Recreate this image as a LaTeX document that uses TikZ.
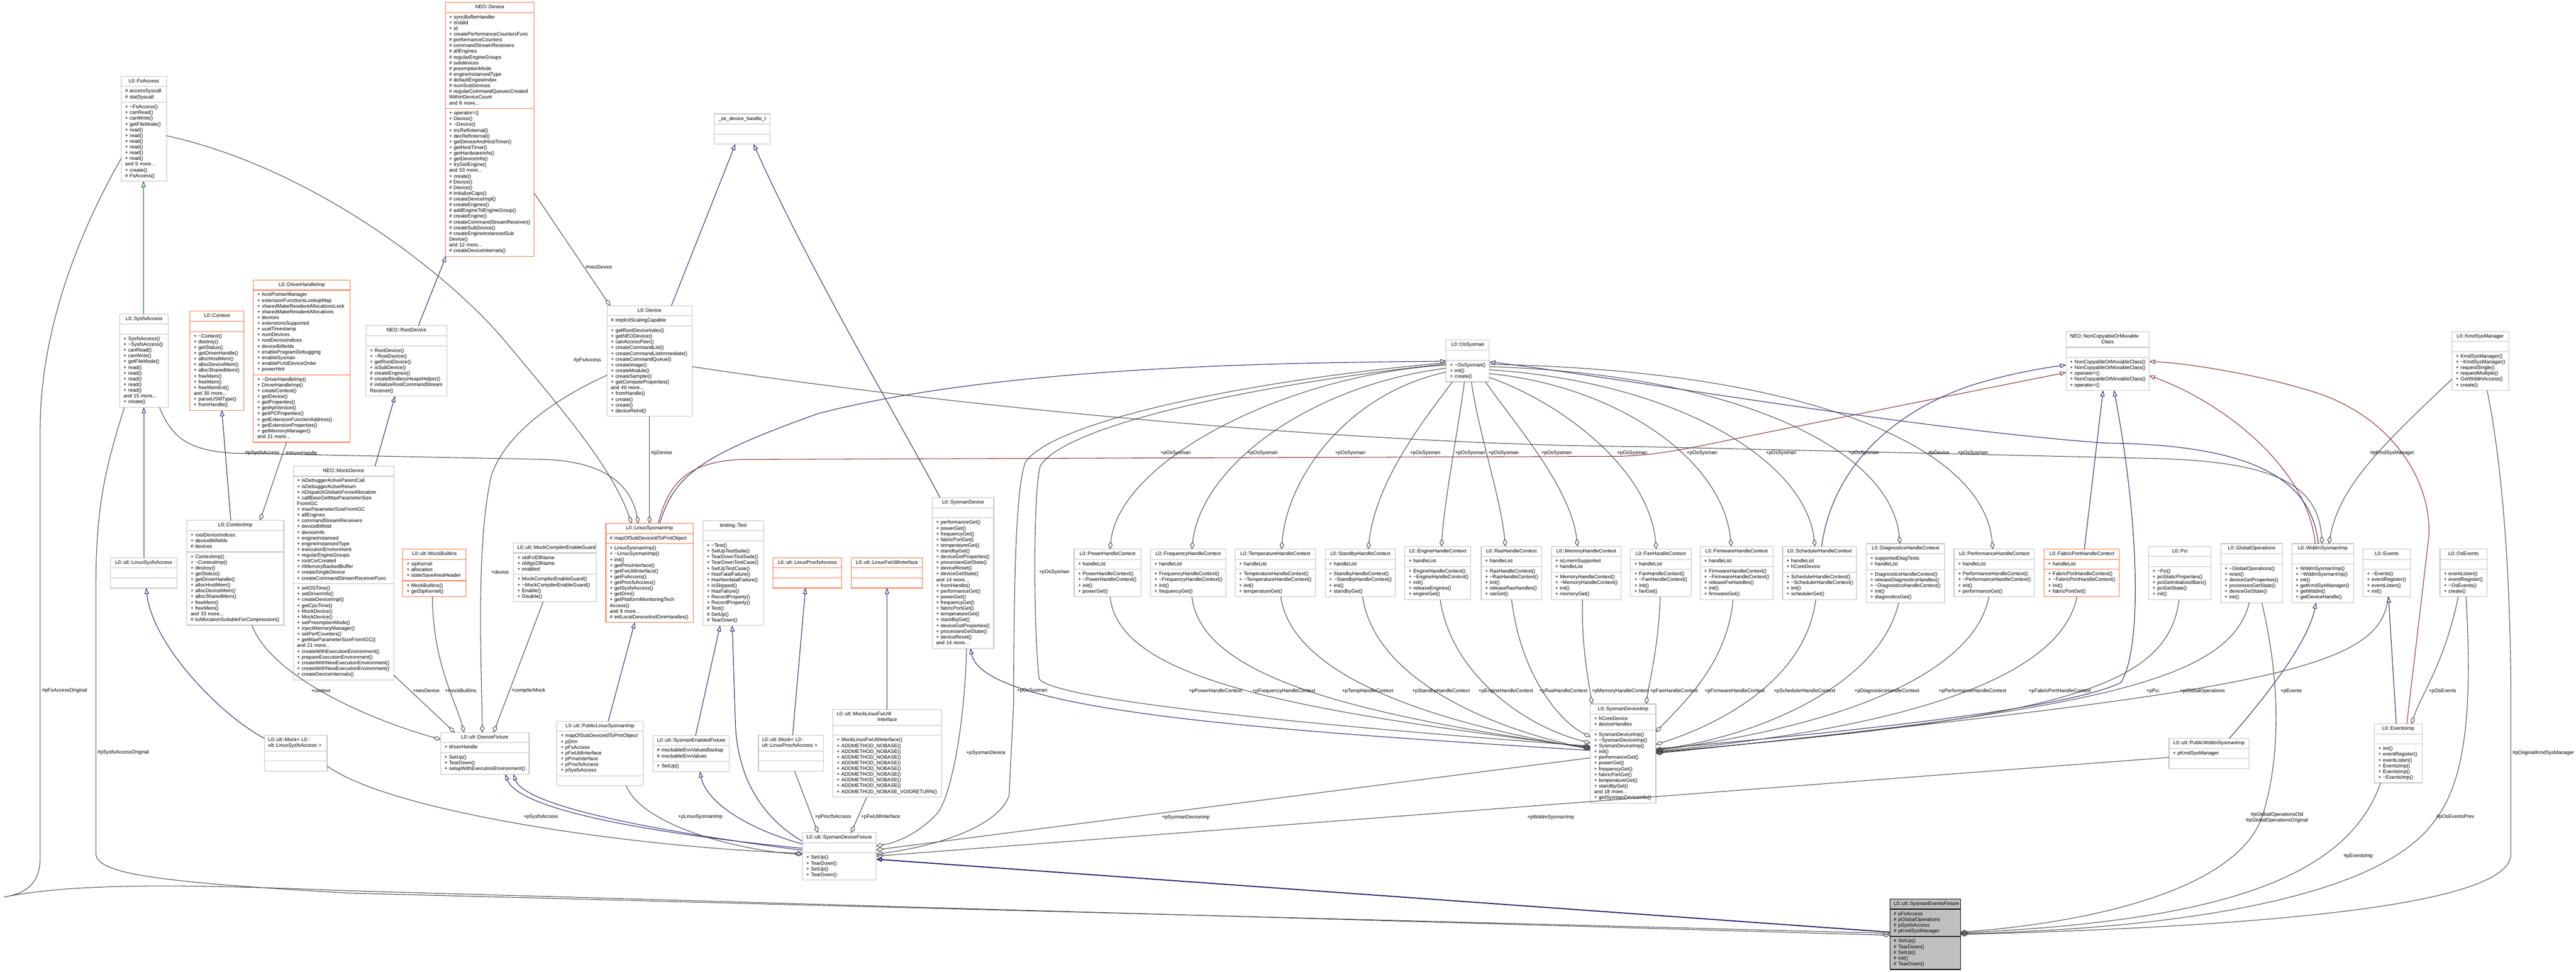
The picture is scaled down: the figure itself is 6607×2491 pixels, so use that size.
\documentclass[tikz,border=0pt]{standalone}
\usepackage{fontspec}
\setmainfont{Liberation Sans}
\usetikzlibrary{arrows.meta}
\definecolor{grey75}{HTML}{BFBFBF}
\definecolor{grey25}{HTML}{404040}
\definecolor{mnblue}{HTML}{191970}
\definecolor{dkgreen}{HTML}{006400}
\definecolor{fbrick}{HTML}{8B1A1A}
\definecolor{orng}{HTML}{FF6E3C}
\newcommand\umlfont{\fontsize{12.9}{14.7}\selectfont}
\newcommand\mPub{+~}
\newcommand\mPro{\#~}
\newcommand\tld{\textasciitilde}
\hyphenpenalty=10000
\exhyphenpenalty=10000
\tikzset{
 box/.style={draw=grey75, fill=white, line width=1.5pt, inner xsep=10pt, inner ysep=5.6pt, outer sep=0pt, font=\umlfont, anchor=north west, execute at begin node=\strut, execute at end node=\strut},
 ttl/.style={box, align=center},
 sec/.style={box, align=left},
 plain/.style={},
 orange/.style={draw=orng},
 focal/.style={draw=black, fill=grey75},
 edge/.style={line width=1.4pt},
 inh/.style={edge, draw=mnblue, -{Triangle[open,length=15pt,width=11pt]}},
 inhg/.style={inh, draw=dkgreen},
 inhr/.style={inh, draw=fbrick},
 inht/.style={inh, line width=2.6pt},
 use/.style={edge, draw=grey25, -{Diamond[open,length=20pt,width=11pt]}},
 lbl/.style={font=\umlfont, inner sep=1pt, anchor=west}
}
\newcommand\uml[8]{%
  \pgfmathsetmacro\umltw{#4-20}%
  \node[ttl,#5,minimum width=#4pt,text width=\umltw pt] (#1) at (#2,#3) {#6};%
  \node[sec,#5,minimum width=#4pt,text width=\umltw pt] (#1a) at (#1.south west) {#7};%
  \node[sec,#5,minimum width=#4pt,text width=\umltw pt] (#1m) at (#1a.south west) {#8};%
}
\begin{document}
\begin{tikzpicture}[x=1pt,y=-1pt]
\fill[white] (0,0) rectangle (6607,2491);
\useasboundingbox (0,0) rectangle (6607,2491);

% ---------------- classes ----------------
\uml{FsA}{311}{196}{116}{plain}{L0::FsAccess}{\mPro accessSyscall\\\mPro statSyscall}{\mPub \tld FsAccess()\\\mPub canRead()\\\mPub canWrite()\\\mPub getFileMode()\\\mPub read()\\\mPub read()\\\mPub read()\\\mPub read()\\\mPub read()\\\mPub read()\\and~9~more...\\\mPub create()\\\mPro FsAccess()}
\uml{SfA}{307}{805}{125}{plain}{L0::SysfsAccess}{}{\mPub SysfsAccess()\\\mPub \tld SysfsAccess()\\\mPub canRead()\\\mPub canWrite()\\\mPub getFileMode()\\\mPub read()\\\mPub read()\\\mPub read()\\\mPub read()\\\mPub read()\\and~15~more...\\\mPub create()}
\uml{Ctx}{487}{798}{139}{orange}{L0::Context}{}{\mPub \tld Context()\\\mPub destroy()\\\mPub getStatus()\\\mPub getDriverHandle()\\\mPub allocHostMem()\\\mPub allocDeviceMem()\\\mPub allocSharedMem()\\\mPub freeMem()\\\mPub freeMem()\\\mPub freeMemExt()\\and~30~more...\\\mPub parseUSMType()\\\mPub fromHandle()}
\uml{DHI}{650}{718}{248}{orange}{L0::DriverHandleImp}{\mPub hostPointerManager\\\mPub extensionFunctionsLookupMap\\\mPub sharedMakeResidentAllocationsLock\\\mPub sharedMakeResidentAllocations\\\mPub devices\\\mPub extensionsSupported\\\mPub uuidTimestamp\\\mPub numDevices\\\mPub rootDeviceIndices\\\mPub deviceBitfields\\\mPub enableProgramDebugging\\\mPub enableSysman\\\mPub enablePciIdDeviceOrder\\\mPub powerHint}{\mPub \tld DriverHandleImp()\\\mPub DriverHandleImp()\\\mPub createContext()\\\mPub getDevice()\\\mPub getProperties()\\\mPub getApiVersion()\\\mPub getIPCProperties()\\\mPub getExtensionFunctionAddress()\\\mPub getExtensionProperties()\\\mPub getMemoryManager()\\and~21~more...}
\uml{RD}{939}{835}{207}{plain}{NEO::RootDevice}{}{\mPub RootDevice()\\\mPub \tld RootDevice()\\\mPub getRootDevice()\\\mPub isSubDevice()\\\mPro createEngines()\\\mPro createBindlessHeapsHelper()\\\mPro initializeRootCommandStream\\Receiver()}
\uml{ND}{1142}{6}{228}{orange}{NEO::Device}{\mPub syncBufferHandler\\\mPub isValid\\\mPub id\\\mPub createPerformanceCountersFunc\\\mPro performanceCounters\\\mPro commandStreamReceivers\\\mPro allEngines\\\mPro regularEngineGroups\\\mPro subdevices\\\mPro preemptionMode\\\mPro engineInstancedType\\\mPro defaultEngineIndex\\\mPro numSubDevices\\\mPro regularCommandQueuesCreated\\WithinDeviceCount\\and~8~more...}{\mPub operator=()\\\mPub Device()\\\mPub \tld Device()\\\mPub incRefInternal()\\\mPub decRefInternal()\\\mPub getDeviceAndHostTimer()\\\mPub getHostTimer()\\\mPub getHardwareInfo()\\\mPub getDeviceInfo()\\\mPub tryGetEngine()\\and~53~more...\\\mPub create()\\\mPro Device()\\\mPro Device()\\\mPro initializeCaps()\\\mPro createDeviceImpl()\\\mPro createEngines()\\\mPro addEngineToEngineGroup()\\\mPro createEngine()\\\mPro createCommandStreamReceiver()\\\mPro createSubDevice()\\\mPro createEngineInstancedSub\\Device()\\and~12~more...\\\mPro createDeviceInternals()}
\uml{ZDH}{1832}{292}{143}{plain}{\_ze\_device\_handle\_t}{}{}
\uml{LD}{1557}{784}{218}{plain}{L0::Device}{\mPro implicitScalingCapable}{\mPub getRootDeviceIndex()\\\mPub getNEODevice()\\\mPub canAccessPeer()\\\mPub createCommandList()\\\mPub createCommandListImmediate()\\\mPub createCommandQueue()\\\mPub createImage()\\\mPub createModule()\\\mPub createSampler()\\\mPub getComputeProperties()\\and~49~more...\\\mPub fromHandle()\\\mPub create()\\\mPub create()\\\mPub deviceReinit()}
\uml{MD}{752}{1195}{258}{plain}{NEO::MockDevice}{\mPub isDebuggerActiveParentCall\\\mPub isDebuggerActiveReturn\\\mPub rtDispatchGlobalsForceAllocation\\\mPub callBaseGetMaxParameterSize\\FromIGC\\\mPub maxParameterSizeFromIGC\\\mPub allEngines\\\mPub commandStreamReceivers\\\mPub deviceBitfield\\\mPub deviceInfo\\\mPub engineInstanced\\\mPub engineInstancedType\\\mPub executionEnvironment\\\mPub regularEngineGroups\\\mPub rootCsrCreated\\\mPub rtMemoryBackedBuffer\\\mPub createSingleDevice\\\mPub createCommandStreamReceiverFunc}{\mPub setOSTime()\\\mPub setDriverInfo()\\\mPub createDeviceImpl()\\\mPub getCpuTime()\\\mPub MockDevice()\\\mPub MockDevice()\\\mPub setPreemptionMode()\\\mPub injectMemoryManager()\\\mPub setPerfCounters()\\\mPub getMaxParameterSizeFromIGC()\\and~21~more...\\\mPub createWithExecutionEnvironment()\\\mPub prepareExecutionEnvironment()\\\mPub createWithNewExecutionEnvironment()\\\mPub createWithNewExecutionEnvironment()\\\mPub createDeviceInternals()}
\uml{CI}{479}{1334}{249}{plain}{L0::ContextImp}{\mPub rootDeviceIndices\\\mPub deviceBitfields\\\mPro devices}{\mPub ContextImp()\\\mPub \tld ContextImp()\\\mPub destroy()\\\mPub getStatus()\\\mPub getDriverHandle()\\\mPub allocHostMem()\\\mPub allocDeviceMem()\\\mPub allocSharedMem()\\\mPub freeMem()\\\mPub freeMem()\\and~33~more...\\\mPro isAllocationSuitableForCompression()}
\uml{LSA}{283}{1430}{171}{plain}{L0::ult::LinuxSysfsAccess}{}{}
\uml{MB}{1033}{1408}{162}{orange}{L0::ult::MockBuiltins}{\mPub sipKernel\\\mPub allocation\\\mPub stateSaveAreaHeader}{\mPub MockBuiltins()\\\mPub getSipKernel()}
\uml{MCE}{1317}{1392}{213}{plain}{L0::ult::MockCompilerEnableGuard}{\mPub oldFclDllName\\\mPub oldIgcDllName\\\mPub enabled}{\mPub MockCompilerEnableGuard()\\\mPub \tld MockCompilerEnableGuard()\\\mPub Enable()\\\mPub Disable()}
\uml{MLSA}{678}{1885}{161}{plain}{L0::ult::Mock<~L0::\hfill\null\\ult::LinuxSysfsAccess~>\hfill\null}{}{}
\uml{DF}{1130}{1878}{227}{plain}{L0::ult::DeviceFixture}{\mPub driverHandle}{\mPub SetUp()\\\mPub TearDown()\\\mPub setupWithExecutionEnvironment()}
\uml{LSI}{1554}{1342}{224}{orange}{L0::LinuxSysmanImp}{\mPro mapOfSubDeviceIdToPmtObject}{\mPub LinuxSysmanImp()\\\mPub \tld LinuxSysmanImp()\\\mPub init()\\\mPub getPmuInterface()\\\mPub getFwUtilInterface()\\\mPub getFsAccess()\\\mPub getProcfsAccess()\\\mPub getSysfsAccess()\\\mPub getDrm()\\\mPub getPlatformMonitoringTech\\Access()\\and~9~more...\\\mPro initLocalDeviceAndDrmHandles()}
\uml{TT}{1803}{1335}{156}{plain}{testing::Test}{}{\mPub \tld Test()\\\mPub SetUpTestSuite()\\\mPub TearDownTestSuite()\\\mPub TearDownTestCase()\\\mPub SetUpTestCase()\\\mPub HasFatalFailure()\\\mPub HasNonfatalFailure()\\\mPub IsSkipped()\\\mPub HasFailure()\\\mPub RecordProperty()\\\mPub RecordProperty()\\\mPro Test()\\\mPro SetUp()\\\mPro TearDown()}
\uml{LPA}{1983}{1430}{176}{orange}{L0::ult::LinuxProcfsAccess}{}{}
\uml{LFU}{2184}{1430}{182}{orange}{L0::ult::LinuxFwUtilInterface}{}{}
\uml{SD}{2391}{1276}{158}{plain}{L0::SysmanDevice}{}{\mPub performanceGet()\\\mPub powerGet()\\\mPub frequencyGet()\\\mPub fabricPortGet()\\\mPub temperatureGet()\\\mPub standbyGet()\\\mPub deviceGetProperties()\\\mPub processesGetState()\\\mPub deviceReset()\\\mPub deviceGetState()\\and~14~more...\\\mPub fromHandle()\\\mPub performanceGet()\\\mPub powerGet()\\\mPub frequencyGet()\\\mPub fabricPortGet()\\\mPub temperatureGet()\\\mPub standbyGet()\\\mPub deviceGetProperties()\\\mPub processesGetState()\\\mPub deviceReset()\\and~14~more...}
\uml{PLSI}{1428}{1849}{222}{plain}{L0::ult::PublicLinuxSysmanImp}{\mPub mapOfSubDeviceIdToPmtObject\\\mPub pDrm\\\mPub pFsAccess\\\mPub pFwUtilInterface\\\mPub pPmuInterface\\\mPub pProcfsAccess\\\mPub pSysfsAccess}{}
\uml{SEF}{1675}{1886}{195}{plain}{L0::ult::SysmanEnabledFixture}{\mPro mockableEnvValuesBackup\\\mPro mockableEnvValues}{\mPub SetUp()}
\uml{MLPA}{1945}{1885}{167}{plain}{L0::ult::Mock<~L0::\hfill\null\\ult::LinuxProcfsAccess~>\hfill\null}{}{}
\uml{MLFU}{2136}{1819}{279}{plain}{L0::ult::MockLinuxFwUtil\hfill\null\\Interface}{}{\mPub MockLinuxFwUtilInterface()\\\mPub ADDMETHOD\_NOBASE()\\\mPub ADDMETHOD\_NOBASE()\\\mPub ADDMETHOD\_NOBASE()\\\mPub ADDMETHOD\_NOBASE()\\\mPub ADDMETHOD\_NOBASE()\\\mPub ADDMETHOD\_NOBASE()\\\mPub ADDMETHOD\_NOBASE()\\\mPub ADDMETHOD\_NOBASE()\\\mPub ADDMETHOD\_NOBASE\_VOIDRETURN()}
\uml{SDF}{2058}{2135}{189}{plain}{L0::ult::SysmanDeviceFixture}{}{\mPub SetUp()\\\mPub TearDown()\\\mPub SetUp()\\\mPub TearDown()}
\uml{OS}{3709}{872}{111}{plain}{L0::OsSysman}{}{\mPub \tld OsSysman()\\\mPub init()\\\mPub create()}
\uml{PHC}{2755}{1408}{171}{plain}{L0::PowerHandleContext}{\mPub handleList}{\mPub PowerHandleContext()\\\mPub \tld PowerHandleContext()\\\mPub init()\\\mPub powerGet()}
\uml{FHC}{2951}{1408}{193}{plain}{L0::FrequencyHandleContext}{\mPub handleList}{\mPub FrequencyHandleContext()\\\mPub \tld FrequencyHandleContext()\\\mPub init()\\\mPub frequencyGet()}
\uml{THC}{3168}{1408}{206}{plain}{L0::TemperatureHandleContext}{\mPub handleList}{\mPub TemperatureHandleContext()\\\mPub \tld TemperatureHandleContext()\\\mPub init()\\\mPub temperatureGet()}
\uml{SHC}{3399}{1408}{180}{plain}{L0::StandbyHandleContext}{\mPub handleList}{\mPub StandbyHandleContext()\\\mPub \tld StandbyHandleContext()\\\mPub init()\\\mPub standbyGet()}
\uml{EHC}{3603}{1401}{169}{plain}{L0::EngineHandleContext}{\mPub handleList}{\mPub EngineHandleContext()\\\mPub \tld EngineHandleContext()\\\mPub init()\\\mPub releaseEngines()\\\mPub engineGet()}
\uml{RHC}{3799}{1401}{155}{plain}{L0::RasHandleContext}{\mPub handleList}{\mPub RasHandleContext()\\\mPub \tld RasHandleContext()\\\mPub init()\\\mPub releaseRasHandles()\\\mPub rasGet()}
\uml{MHC}{3979}{1401}{179}{plain}{L0::MemoryHandleContext}{\mPub isLmemSupported\\\mPub handleList}{\mPub MemoryHandleContext()\\\mPub \tld MemoryHandleContext()\\\mPub init()\\\mPub memoryGet()}
\uml{FanHC}{4182}{1408}{155}{plain}{L0::FanHandleContext}{\mPub handleList}{\mPub FanHandleContext()\\\mPub \tld FanHandleContext()\\\mPub init()\\\mPub fanGet()}
\uml{FwHC}{4361}{1401}{186}{plain}{L0::FirmwareHandleContext}{\mPub handleList}{\mPub FirmwareHandleContext()\\\mPub \tld FirmwareHandleContext()\\\mPub releaseFwHandles()\\\mPub init()\\\mPub firmwareGet()}
\uml{SchHC}{4572}{1401}{190}{plain}{L0::SchedulerHandleContext}{\mPub handleList\\\mPub hCoreDevice}{\mPub SchedulerHandleContext()\\\mPub \tld SchedulerHandleContext()\\\mPub init()\\\mPub schedulerGet()}
\uml{DHC}{4787}{1394}{201}{plain}{L0::DiagnosticsHandleContext}{\mPub supportedDiagTests\\\mPub handleList}{\mPub DiagnosticsHandleContext()\\\mPub releaseDiagnosticsHandles()\\\mPub \tld DiagnosticsHandleContext()\\\mPub init()\\\mPub diagnosticsGet()}
\uml{PerfHC}{5012}{1408}{206}{plain}{L0::PerformanceHandleContext}{\mPub handleList}{\mPub PerformanceHandleContext()\\\mPub \tld PerformanceHandleContext()\\\mPub init()\\\mPub performanceGet()}
\uml{FPHC}{5243}{1408}{193}{orange}{L0::FabricPortHandleContext}{\mPub handleList}{\mPub FabricPortHandleContext()\\\mPub \tld FabricPortHandleContext()\\\mPub init()\\\mPub fabricPortGet()}
\uml{Pci}{5511}{1401}{160}{plain}{L0::Pci}{}{\mPub \tld Pci()\\\mPub pciStaticProperties()\\\mPub pciGetInitializedBars()\\\mPub pciGetState()\\\mPub init()}
\uml{GO}{5696}{1394}{158}{plain}{L0::GlobalOperations}{}{\mPub \tld GlobalOperations()\\\mPub reset()\\\mPub deviceGetProperties()\\\mPub processesGetState()\\\mPub deviceGetState()\\\mPub init()}
\uml{WSI}{5878}{1394}{159}{plain}{L0::WddmSysmanImp}{}{\mPub WddmSysmanImp()\\\mPub \tld WddmSysmanImp()\\\mPub init()\\\mPub getKmdSysManager()\\\mPub getWddm()\\\mPub getDeviceHandle()}
\uml{Ev}{6061}{1408}{121}{plain}{L0::Events}{}{\mPub \tld Events()\\\mPub eventRegister()\\\mPub eventListen()\\\mPub init()}
\uml{OE}{6258}{1408}{121}{plain}{L0::OsEvents}{}{\mPub eventListen()\\\mPub eventRegister()\\\mPub \tld OsEvents()\\\mPub create()}
\uml{PWSI}{5563}{1893}{205}{plain}{L0::ult::PublicWddmSysmanImp}{\mPub pKmdSysManager}{}
\uml{EI}{6090}{1856}{122}{plain}{L0::EventsImp}{}{\mPub init()\\\mPub eventRegister()\\\mPub eventListen()\\\mPub EventsImp()\\\mPub EventsImp()\\\mPub \tld EventsImp()}
\uml{NC}{5299}{850}{213}{plain}{NEO::NonCopyableOrMovable\hfill\null\\Class}{}{\mPub NonCopyableOrMovableClass()\\\mPub NonCopyableOrMovableClass()\\\mPub operator=()\\\mPub NonCopyableOrMovableClass()\\\mPub operator=()}
\uml{KSM}{6289}{850}{145}{plain}{L0::KmdSysManager}{}{\mPub KmdSysManager()\\\mPub \tld KmdSysManager()\\\mPub requestSingle()\\\mPub requestMultiple()\\\mPub GetWddmAccess()\\\mPub create()}
\uml{SDI}{4079}{1805}{168}{plain}{L0::SysmanDeviceImp}{\mPub hCoreDevice\\\mPub deviceHandles}{\mPub SysmanDeviceImp()\\\mPub \tld SysmanDeviceImp()\\\mPub SysmanDeviceImp()\\\mPub init()\\\mPub performanceGet()\\\mPub powerGet()\\\mPub frequencyGet()\\\mPub fabricPortGet()\\\mPub temperatureGet()\\\mPub standbyGet()\\and~18~more...\\\mPub getSysmanDeviceInfo()}
\uml{FOC}{4847}{2305}{181}{focal}{L0::ult::SysmanEventsFixture}{\mPro pFsAccess\\\mPro pGlobalOperations\\\mPro pSysfsAccess\\\mPro pKmdSysManager}{\mPro SetUp()\\\mPro TearDown()\\\mPro SetUp()\\\mPro init()\\\mPro TearDown()}

% ---------------- inheritance ----------------
\draw[inhg] ([shift={(61,0)}]SfA.north west) -- ([shift={(57,0)}]FsAm.south west);
\draw[inh] ([shift={(86,0)}]LSA.north west) -- ([shift={(62,0)}]SfAm.south west);
\draw[inh] ([shift={(0,8)}]MLSA.north west) .. controls (560,1830) and (390,1650) .. ([shift={(92,0)}]LSAm.south west);
\draw[inh] ([shift={(113,0)}]CI.north west) -- ([shift={(82,0)}]Ctxm.south west);
\draw[inh] ([shift={(134,0)}]RD.north west) -- ([shift={(2,0)}]NDm.south west);
\draw[inh] ([shift={(210,0)}]MD.north west) -- ([shift={(74,0)}]RDm.south west);
\draw[inh] ([shift={(165,0)}]LD.north west) -- ([shift={(54,0)}]ZDHm.south west);
\draw[inh] ([shift={(20,0)}]SD.north west) .. controls (2330,1120) and (2080,700) .. ([shift={(101,0)}]ZDHm.south west);
\draw[inh] ([shift={(132,0)}]PLSI.north west) -- ([shift={(74,0)}]LSIm.south west);
\draw[inh] ([shift={(109,0)}]SEF.north west) -- ([shift={(44,0)}]TTm.south west);
\draw[inh] ([shift={(0,22)}]SDF.north west) .. controls (1960,2100) and (1890,2000) .. (1886,1850) -- ([shift={(75,0)}]TTm.south west);
\draw[inh] ([shift={(0,29)}]SDF.north west) .. controls (1900,2120) and (1810,2050) .. ([shift={(120,0)}]SEFm.south west);
\draw[inh] ([shift={(0,40)}]SDF.north west) .. controls (1700,2140) and (1330,2080) .. ([shift={(166,0)}]DFm.south west);
\draw[inh] ([shift={(0,45)}]SDF.north west) .. controls (1710,2135) and (1345,2070) .. ([shift={(187,0)}]DFm.south west);
\draw[inh] ([shift={(88,0)}]MLPA.north west) -- ([shift={(83,0)}]LPAm.south west);
\draw[inh] ([shift={(139,0)}]MLFU.north west) -- ([shift={(91,0)}]LFUm.south west);
\draw[inh] ([shift={(0,119)}]SDI.north west) .. controls (3200,1870) and (2520,1820) .. ([shift={(98,0)}]SDm.south west);
\draw[inh] ([shift={(138,0)}]LSI.north west) .. controls (1730,1220) and (1790,1170) .. (2100,1060) .. controls (2600,930) and (3400,930) .. ([shift={(0,54)}]OS.north west);
\draw[inhr] ([shift={(134,0)}]LSI.north west) .. controls (1715,1240) and (1760,1185) .. (1900,1178) -- (4150,1170) .. controls (4260,1168) and (4360,1143) .. (4500,1115) -- ([shift={(0,105)}]NC.north west);
\draw[inh] ([shift={(100,0)}]SchHC.north west) .. controls (4700,1200) and (4850,1060) .. (5050,990) .. controls (5150,958) and (5250,942) .. ([shift={(0,86)}]NC.north west);
\draw[inh] ([shift={(103,0)}]FPHC.north west) -- ([shift={(95,0)}]NCm.south west);
\draw[inh] ([shift={(0,115)}]SDI.north east) .. controls (4700,1880) and (5300,1820) .. (5440,1750) .. controls (5500,1650) and (5480,1300) .. ([shift={(123,0)}]NCm.south west);
\draw[inhr] ([shift={(60,0)}]WSI.north west) .. controls (5920,1200) and (5700,1030) .. ([shift={(0,113)}]NC.north east);
\draw[inhr] ([shift={(83,0)}]EI.north west) -- (6229,1380) .. controls (6240,1250) and (6150,1080) .. (5950,1010) .. controls (5800,960) and (5600,930) .. ([shift={(0,77)}]NC.north east);
\draw[inh] ([shift={(155,0)}]PWSI.north west) .. controls (5800,1800) and (5920,1650) .. ([shift={(62,0)}]WSIm.south west);
\draw[inh] ([shift={(56,0)}]EI.north west) -- ([shift={(65,0)}]Evm.south west);
\draw[inh] ([shift={(68,0)}]WSI.north west) .. controls (5930,1240) and (5800,1140) .. (5400,1136) .. controls (4900,1100) and (4100,960) .. ([shift={(0,56)}]OS.north east);
\draw[inht] ([shift={(0,85)}]FOC.north west) -- ([shift={(0,68)}]SDF.north east);

% ---------------- usage ----------------
\draw[use] ([shift={(0,489)}]ND.north east) -- ([shift={(8,0)}]LD.north west);
\draw[use] ([shift={(109,0)}]LDm.south west) -- ([shift={(112,0)}]LSI.north west);
\draw[use] ([shift={(0,152)}]FsA.north east) .. controls (800,430) and (1150,700) .. (1300,880) .. controls (1450,1060) and (1570,1200) .. ([shift={(66,0)}]LSI.north west);
\draw[use] ([shift={(102,0)}]SfAm.south west) .. controls (440,1120) and (480,1155) .. (600,1162) -- (1400,1178) .. controls (1560,1185) and (1620,1250) .. ([shift={(83,0)}]LSI.north west);
\draw[use] ([shift={(85,0)}]DHIm.south west) -- ([shift={(188,0)}]CI.north west);
\draw[use] ([shift={(167,0)}]CIm.south west) .. controls (690,1720) and (900,1830) .. ([shift={(0,18)}]DF.north west);
\draw[use] ([shift={(0,536)}]MD.north east) -- ([shift={(36,0)}]DF.north west);
\draw[use] ([shift={(76,0)}]MBm.south west) .. controls (1110,1700) and (1170,1800) .. ([shift={(60,0)}]DF.north west);
\draw[use] ([shift={(0,178)}]LD.north west) .. controls (1450,1010) and (1300,1100) .. (1260,1220) .. controls (1220,1400) and (1235,1700) .. ([shift={(107,0)}]DF.north west);
\draw[use] ([shift={(76,0)}]MCEm.south west) -- ([shift={(136,0)}]DF.north west);
\draw[use] ([shift={(0,210)}]FsA.north west) .. controls (200,600) and (103,850) .. (103,1100) -- (103,2200) .. controls (103,2270) and (60,2292) .. (10,2300) .. controls (200,2262) and (500,2268) .. (900,2284) -- ([shift={(0,93)}]FOC.north west);
\draw[use] ([shift={(12,0)}]SfAm.south west) .. controls (270,1200) and (246,1300) .. (246,1500) -- (246,2190) .. controls (250,2240) and (400,2262) .. (900,2290) -- ([shift={(0,88)}]FOC.north west);
\draw[use] ([shift={(0,79)}]MLSA.north east) .. controls (1000,2080) and (1600,2170) .. ([shift={(0,53)}]SDF.north west);
\draw[use] ([shift={(178,0)}]PLSIm.south west) .. controls (1650,2120) and (1900,2180) .. ([shift={(0,56)}]SDF.north west);
\draw[use] ([shift={(93,0)}]MLPAm.south west) -- ([shift={(40,0)}]SDF.north west);
\draw[use] ([shift={(87,0)}]MLFUm.south west) -- ([shift={(125,0)}]SDF.north west);
\draw[use] ([shift={(88,0)}]SDm.south west) .. controls (2475,1850) and (2440,2050) .. (2400,2090) .. controls (2350,2140) and (2300,2160) .. ([shift={(0,34)}]SDF.north east);
\draw[use] ([shift={(0,58)}]OS.north west) .. controls (3200,975) and (2700,1080) .. (2630,1185) .. controls (2605,1250) and (2600,1500) .. (2600,1800) -- (2588,2040) .. controls (2560,2120) and (2400,2170) .. ([shift={(0,55)}]SDF.north east);
\draw[use] ([shift={(0,61)}]OS.north west) .. controls (3220,985) and (2730,1090) .. (2668,1195) .. controls (2650,1260) and (2650,1600) .. (2665,1740) .. controls (2700,1800) and (3500,1870) .. ([shift={(0,108)}]SDI.north west);
\draw[use] ([shift={(0,138)}]SDI.north west) -- ([shift={(0,44)}]SDF.north east);
\draw[use] ([shift={(0,49)}]PWSI.north west) -- ([shift={(0,60)}]SDF.north east);
\draw[use] ([shift={(0,156)}]LD.north east) .. controls (2500,1050) and (3500,1140) .. (4200,1145) -- (5500,1175) .. controls (5850,1180) and (5945,1250) .. ([shift={(78,0)}]WSI.north west);
\draw[use] ([shift={(0,122)}]KSM.north west) .. controls (6100,1150) and (6000,1250) .. ([shift={(95,0)}]WSI.north west);
\draw[use] ([shift={(105,0)}]GOm.south west) .. controls (5850,1750) and (5850,1950) .. (5800,2100) .. controls (5720,2300) and (5300,2370) .. ([shift={(0,85)}]FOC.north east);
\draw[use] ([shift={(16,0)}]EIm.south west) .. controls (6020,2250) and (5700,2360) .. ([shift={(0,87)}]FOC.north east);
\draw[use] ([shift={(67,0)}]OEm.south west) .. controls (6340,1800) and (6330,2000) .. (6240,2110) .. controls (6100,2300) and (5600,2380) .. ([shift={(0,89)}]FOC.north east);
\draw[use] ([shift={(90,0)}]KSMm.south west) .. controls (6420,1200) and (6440,1500) .. (6440,1800) -- (6440,2190) .. controls (6440,2300) and (6000,2370) .. ([shift={(0,91)}]FOC.north east);
\draw[use] ([shift={(47,0)}]OEm.south west) .. controls (6270,1700) and (6210,1780) .. ([shift={(95,0)}]EI.north west);

% OsSysman -> handle contexts
\draw[use] ([shift={(0,64)}]OS.north west) .. controls (3300,960) and (2870,1180) .. ([shift={(92,0)}]PHC.north west);
\draw[use] ([shift={(0,72)}]OS.north west) .. controls (3350,990) and (3080,1200) .. ([shift={(106,0)}]FHC.north west);
\draw[use] ([shift={(0,82)}]OS.north west) .. controls (3450,1010) and (3300,1230) .. ([shift={(119,0)}]THC.north west);
\draw[use] ([shift={(16,0)}]OSm.south west) .. controls (3650,1080) and (3530,1230) .. ([shift={(110,0)}]SHC.north west);
\draw[use] ([shift={(47,0)}]OSm.south west) .. controls (3740,1100) and (3705,1280) .. ([shift={(94,0)}]EHC.north west);
\draw[use] ([shift={(65,0)}]OSm.south west) .. controls (3790,1100) and (3850,1280) .. ([shift={(62,0)}]RHC.north west);
\draw[use] ([shift={(101,0)}]OSm.south west) .. controls (3880,1080) and (4030,1250) .. ([shift={(67,0)}]MHC.north west);
\draw[use] ([shift={(0,96)}]OS.north east) .. controls (4000,1030) and (4230,1200) .. ([shift={(66,0)}]FanHC.north west);
\draw[use] ([shift={(0,86)}]OS.north east) .. controls (4150,990) and (4420,1180) .. ([shift={(79,0)}]FwHC.north west);
\draw[use] ([shift={(0,76)}]OS.north east) .. controls (4300,980) and (4630,1180) .. ([shift={(83,0)}]SchHC.north west);
\draw[use] ([shift={(0,68)}]OS.north east) .. controls (4450,960) and (4850,1150) .. ([shift={(86,0)}]DHC.north west);
\draw[use] ([shift={(0,62)}]OS.north east) .. controls (4650,950) and (5090,1150) .. ([shift={(99,0)}]PerfHC.north west);

% handle contexts -> SysmanDeviceImp
\draw[use] ([shift={(92,0)}]PHCm.south west) .. controls (2870,1740) and (3300,1820) .. ([shift={(0,111)}]SDI.north west);
\draw[use] ([shift={(106,0)}]FHCm.south west) .. controls (3080,1730) and (3450,1830) .. ([shift={(0,113)}]SDI.north west);
\draw[use] ([shift={(117,0)}]THCm.south west) .. controls (3310,1710) and (3600,1840) .. ([shift={(0,115)}]SDI.north west);
\draw[use] ([shift={(96,0)}]SHCm.south west) .. controls (3520,1710) and (3750,1850) .. ([shift={(0,116)}]SDI.north west);
\draw[use] ([shift={(91,0)}]EHCm.south west) .. controls (3720,1720) and (3900,1860) .. ([shift={(0,100)}]SDI.north west);
\draw[use] ([shift={(78,0)}]RHCm.south west) .. controls (3900,1730) and (4000,1850) .. ([shift={(0,84)}]SDI.north west);
\draw[use] ([shift={(80,0)}]MHCm.south west) .. controls (4055,1650) and (4075,1750) .. ([shift={(4,0)}]SDI.north west);
\draw[use] ([shift={(76,0)}]FanHCm.south west) .. controls (4255,1650) and (4230,1750) .. ([shift={(143,0)}]SDI.north west);
\draw[use] ([shift={(84,0)}]FwHCm.south west) .. controls (4430,1700) and (4320,1800) .. ([shift={(0,72)}]SDI.north east);
\draw[use] ([shift={(85,0)}]SchHCm.south west) .. controls (4630,1750) and (4400,1860) .. ([shift={(0,104)}]SDI.north east);
\draw[use] ([shift={(83,0)}]DHCm.south west) .. controls (4820,1760) and (4500,1890) .. ([shift={(0,117)}]SDI.north east);
\draw[use] ([shift={(89,0)}]PerfHCm.south west) .. controls (5070,1700) and (4800,1850) .. ([shift={(0,119)}]SDI.north east);
\draw[use] ([shift={(84,0)}]FPHCm.south west) .. controls (5290,1720) and (4950,1860) .. ([shift={(0,121)}]SDI.north east);
\draw[use] ([shift={(78,0)}]Pcim.south west) .. controls (5560,1760) and (5300,1840) .. ([shift={(0,123)}]SDI.north east);
\draw[use] ([shift={(73,0)}]GOm.south west) .. controls (5720,1740) and (5400,1820) .. ([shift={(0,125)}]SDI.north east);
\draw[use] ([shift={(64,0)}]Evm.south west) .. controls (6110,1720) and (5800,1770) .. ([shift={(0,127)}]SDI.north east);

% ---------------- labels ----------------
\node[lbl] (q1) at (1501,684) {\#neoDevice};
\node[lbl] (q2) at (1470,924) {\#pFsAccess};
\node[lbl] (q3) at (628,1162) {\#pSysfsAccess};
\node[lbl] (q4) at (732,1162) {\#driverHandle};
\node[lbl] (q5) at (1669,1162) {\#pDevice};
\node[lbl] (q6) at (797,1771) {+context};
\node[lbl] (q7) at (1058,1771) {+neoDevice};
\node[lbl] (q8) at (1140,1771) {+mockBuiltIns};
\node[lbl] (q9) at (1310,1771) {+compilerMock};
\node[lbl] (q10) at (1259,1467) {+device};
\node[lbl] (q11) at (107,1771) {\#pFsAccessOriginal};
\node[lbl] (q12) at (249,1929) {\#pSysfsAccessOriginal};
\node[lbl] (q13) at (1342,2095) {+pSysfsAccess};
\node[lbl] (q14) at (1738,2095) {+pLinuxSysmanImp};
\node[lbl] (q15) at (2089,2094) {+pProcfsAccess};
\node[lbl] (q16) at (2207,2094) {+pFwUtilInterface};
\node[lbl] (q17) at (2477,1930) {+pSysmanDevice};
\node[lbl] (q18) at (2664,1467) {+pOsSysman};
\node[lbl] (q19) at (2607,1771) {+pOsSysman};
\node[lbl] (q20) at (2979,2096) {+pSysmanDeviceImp};
\node[lbl] (q21) at (3916,2096) {+pWddmSysmanImp};
\node[lbl] (q22) at (4945,1162) {\#pDevice};
\node[lbl] (q23) at (6078,1162) {\#pKmdSysManager};
\node[lbl] (q24) at (6443,1930) {\#pOriginalKmdSysManager};
\node[font=\umlfont, inner sep=1pt, align=center] (q25) at (5840,2096) {\#pGlobalOperationsOld\\\#pGlobalOperationsOriginal};
\node[lbl] (q26) at (6248,2095) {\#pOsEventsPrev};
\node[lbl] (q27) at (6010,2195) {\#pEventsImp};
\node[lbl] (q28) at (6228,1772) {+pOsEvents};
\node[lbl] (q29) at (2975,1162) {+pOsSysman};
\node[lbl] (q30) at (3198,1162) {+pOsSysman};
\node[lbl] (q31) at (3423,1162) {+pOsSysman};
\node[lbl] (q32) at (3615,1162) {+pOsSysman};
\node[lbl] (q33) at (3731,1162) {+pOsSysman};
\node[lbl] (q34) at (3816,1162) {+pOsSysman};
\node[lbl] (q35) at (3952,1162) {+pOsSysman};
\node[lbl] (q36) at (4146,1162) {+pOsSysman};
\node[lbl] (q37) at (4325,1162) {+pOsSysman};
\node[lbl] (q38) at (4528,1162) {+pOsSysman};
\node[lbl] (q39) at (4740,1162) {+pOsSysman};
\node[lbl] (q40) at (5020,1162) {+pOsSysman};
\node[lbl] (q41) at (3048,1772) {+pPowerHandleContext};
\node[lbl] (q42) at (3211,1772) {+pFrequencyHandleContext};
\node[lbl] (q43) at (3441,1772) {+pTempHandleContext};
\node[lbl] (q44) at (3621,1772) {+pStandbyHandleContext};
\node[lbl] (q45) at (3791,1772) {+pEngineHandleContext};
\node[lbl] (q46) at (3947,1772) {+pRasHandleContext};
\node[lbl] (q47) at (4081,1772) {+pMemoryHandleContext};
\node[lbl] (q48) at (4231,1772) {+pFanHandleContext};
\node[lbl] (q49) at (4371,1772) {+pFirmwareHandleContext};
\node[lbl] (q50) at (4548,1772) {+pSchedulerHandleContext};
\node[lbl] (q51) at (4755,1772) {+pDiagnosticsHandleContext};
\node[lbl] (q52) at (4971,1772) {+pPerformanceHandleContext};
\node[lbl] (q53) at (5202,1772) {+pFabricPortHandleContext};
\node[lbl] (q54) at (5504,1772) {+pPci};
\node[lbl] (q55) at (5590,1772) {+pGlobalOperations};
\node[lbl] (q56) at (5848,1772) {+pEvents};
\end{tikzpicture}
\end{document}
